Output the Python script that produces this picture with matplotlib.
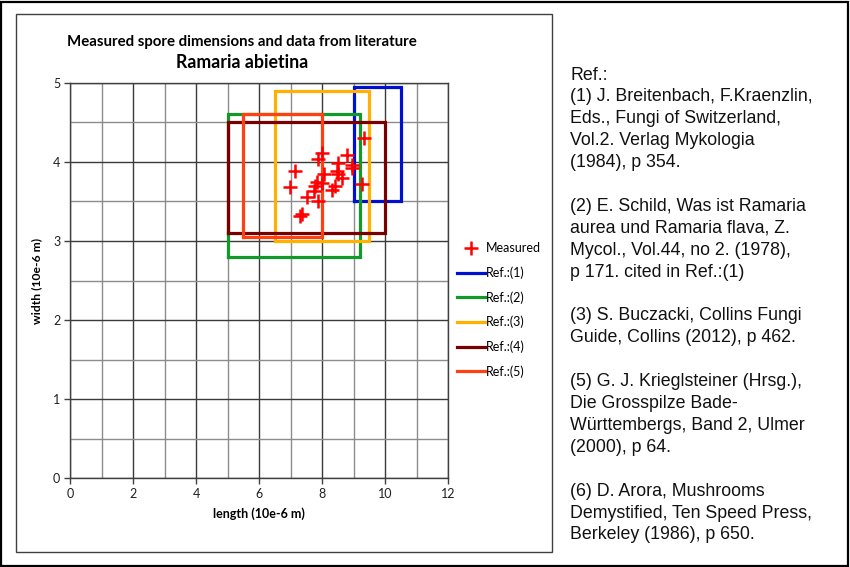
import matplotlib.pyplot as plt
import matplotlib.patches as mpatches
import numpy as np

# measured spores (length, width) in 10e-6 m
meas_len = [9.32, 7.99, 7.86, 8.78, 7.14, 8.52, 8.96, 8.47, 8.07, 8.52, 6.98, 7.83,
            7.78, 8.41, 8.31, 9.26, 7.51, 7.88, 7.38, 7.31, 7.74, 7.99, 8.62, 8.95]
meas_wid = [4.30, 4.11, 4.03, 4.09, 3.88, 3.99, 3.92, 3.88, 3.84, 3.84, 3.68, 3.75,
            3.70, 3.69, 3.65, 3.72, 3.56, 3.51, 3.34, 3.32, 3.63, 3.73, 3.80, 3.96]

# literature ranges
ref_names = ['Ref.:(1)', 'Ref.:(2)', 'Ref.:(3)', 'Ref.:(4)', 'Ref.:(5)']
len_min = [9.0, 5.0, 6.5, 5.0, 5.5]
len_max = [10.5, 9.2, 9.5, 10.0, 8.0]
wid_min = [3.5, 2.8, 3.0, 3.1, 3.05]
wid_max = [4.95, 4.6, 4.9, 4.5, 4.6]
ref_colors = ['#0010D0', '#119A2A', '#FFB000', '#7A0000', '#FF4010']

ref_text = [
    "Ref.:",
    "(1) J. Breitenbach, F.Kraenzlin,",
    "Eds., Fungi of Switzerland,",
    "Vol.2. Verlag Mykologia",
    "(1984), p 354.",
    "",
    "(2) E. Schild, Was ist Ramaria",
    "aurea und Ramaria flava, Z.",
    "Mycol., Vol.44, no 2. (1978),",
    "p 171. cited in Ref.:(1)",
    "",
    "(3) S. Buczacki, Collins Fungi",
    "Guide, Collins (2012), p 462.",
    "",
    "(5) G. J. Krieglsteiner (Hrsg.),",
    "Die Grosspilze Bade-",
    "Württembergs, Band 2, Ulmer",
    "(2000), p 64.",
    "",
    "(6) D. Arora, Mushrooms",
    "Demystified, Ten Speed Press,",
    "Berkeley (1986), p 650.",
]

W, H = 850, 567
fig = plt.figure(figsize=(8.5, 5.67), dpi=100)
plt.rcParams['font.family'] = ['Lato', 'DejaVu Sans']

# frames
fig.patches.append(mpatches.Rectangle((1 / W, 1 / H), 847 / W, 564 / H, transform=fig.transFigure,
                                      fill=False, edgecolor='black', linewidth=1.6))
fig.patches.append(mpatches.Rectangle((15.7 / W, (H - 552) / H), 536.5 / W, 538 / H,
                                      transform=fig.transFigure, fill=False,
                                      edgecolor='#404040', linewidth=1.0))

ax = fig.add_axes([70 / W, (H - 478.3) / H, 378 / W, 395.6 / H])
ax.set_xlim(0, 12)
ax.set_ylim(0, 5)
ax.set_xticks(range(0, 13, 2))
ax.set_yticks(range(0, 6))
ax.set_xticks(range(0, 13), minor=True)
ax.set_yticks(np.arange(0, 5.01, 0.5), minor=True)
ax.grid(which='major', color='#3a3a3a', linewidth=1.0)
ax.grid(which='minor', color='#8c8c8c', linewidth=1.0)
ax.tick_params(which='minor', length=0)
ax.tick_params(which='major', length=4, width=1, color='#404040', labelsize=9, pad=3,
               labelcolor='#202020')
ax.set_axisbelow(True)
for s in ax.spines.values():
    s.set_color('#404040')
    s.set_linewidth(1.0)

handles = []
for i in range(len(ref_names)):
    xs = [len_min[i], len_max[i], len_max[i], len_min[i], len_min[i]]
    ys = [wid_min[i], wid_min[i], wid_max[i], wid_max[i], wid_min[i]]
    ln, = ax.plot(xs, ys, color=ref_colors[i], linewidth=2.3, solid_joinstyle='miter',
                  label=ref_names[i], clip_on=False)
    handles.append(ln)

mk, = ax.plot(meas_len, meas_wid, linestyle='none', marker='+', markersize=10.5,
              markeredgewidth=1.8, color='#FF0000', label='Measured', zorder=5)

leg = fig.legend(handles=[mk] + handles, loc='upper left',
                 bbox_to_anchor=(451 / W, 1 - 236 / H), frameon=False, fontsize=9,
                 handlelength=2.2, handletextpad=0.1, labelspacing=0.97, borderpad=0)

fig.text(242 / W, 1 - 42 / H, 'Measured spore dimensions and data from literature',
         ha='center', va='center', fontsize=10.8, fontweight='bold')
fig.text(242 / W, 1 - 62 / H, 'Ramaria abietina', ha='center', va='center',
         fontsize=12.8, fontweight='bold')
ax.set_xlabel('length (10e-6 m)', fontsize=9, fontweight='bold', labelpad=5)
ax.set_ylabel('width (10e-6 m)', fontsize=8.7, fontweight='bold', labelpad=8)

# reference list on the right
for i, line in enumerate(ref_text):
    fig.text(570 / W, 1 - (75 + i * 21.9) / H, line, ha='left', va='center',
             fontsize=12.8, family='Liberation Sans', color='#111111')

fig.savefig('out.png', dpi=100)
